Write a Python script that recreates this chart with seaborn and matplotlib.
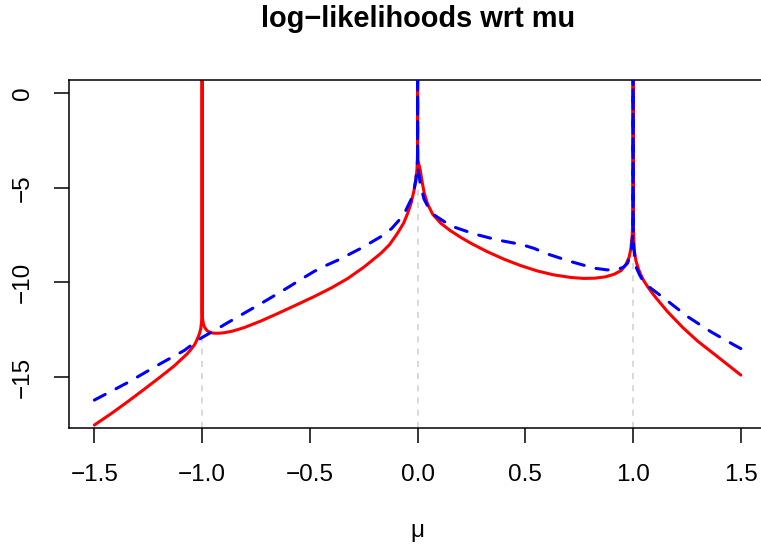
import matplotlib
matplotlib.use("Agg")
import matplotlib.pyplot as plt
import seaborn as sns
import pandas as pd

# ---- data ----
red_x = [-1.5, -1.42, -1.346, -1.27, -1.191, -1.13, -1.067, -1.035, -1.021, -1.012,
         -1.006, -1.002, -1.0005, -1.0, -1.0, -1.0, -0.9995, -0.998, -0.994, -0.987,
         -0.977, -0.967, -0.95, -0.928, -0.9, -0.86, -0.805, -0.727, -0.65, -0.57,
         -0.48, -0.40, -0.325, -0.25, -0.17, -0.13, -0.093, -0.065, -0.046, -0.03,
         -0.016, -0.008, -0.003, -0.001, 0.0, 0.0, 0.0, 0.001, 0.004, 0.012,
         0.022, 0.031, 0.046, 0.07, 0.108, 0.15, 0.2, 0.247, 0.32, 0.402,
         0.48, 0.557, 0.63, 0.711, 0.77, 0.82, 0.87, 0.912, 0.945, 0.967,
         0.982, 0.99, 0.996, 0.999, 1.0, 1.0, 1.0, 1.001, 1.005, 1.013,
         1.025, 1.036, 1.05, 1.067, 1.09, 1.11, 1.16, 1.23, 1.299, 1.4,
         1.5]
red_y = [-17.54, -16.92, -16.31, -15.66, -14.97, -14.42, -13.75, -13.30, -12.96, -12.70,
         -12.42, -12.0, -11.2, -10.6, 5.0, -10.6, -11.3, -11.9, -12.2, -12.4,
         -12.55, -12.62, -12.68, -12.69, -12.665, -12.58, -12.39, -12.04, -11.65, -11.23,
         -10.75, -10.29, -9.80, -9.20, -8.46, -8.00, -7.40, -6.87, -6.35, -5.80,
         -5.11, -4.55, -4.06, -3.5, -3.0, 5.0, -3.0, -3.5, -3.65, -4.05,
         -4.75, -5.29, -5.85, -6.40, -6.88, -7.25, -7.62, -7.93, -8.36, -8.78,
         -9.12, -9.40, -9.60, -9.74, -9.79, -9.78, -9.71, -9.57, -9.37, -9.05,
         -8.65, -8.2, -7.5, -6.5, -6.0, 5.0, -6.0, -7.0, -8.3, -8.85,
         -9.3, -9.6, -9.92, -10.22, -10.58, -10.87, -11.55, -12.38, -13.10, -14.0,
         -14.90]

blue_x = [-1.5, -1.346, -1.191, -1.083, -1.006, -0.944, -0.851, -0.727, -0.65, -0.596,
          -0.54, -0.48, -0.42, -0.371, -0.263, -0.17, -0.12, -0.085, -0.055, -0.031,
          -0.015, -0.008, -0.002, 0.0, 0.0, 0.0, 0.002, 0.015, 0.03, 0.046,
          0.077, 0.155, 0.263, 0.371, 0.479, 0.54, 0.603, 0.711, 0.82, 0.88,
          0.928, 0.955, 0.974, 0.99, 0.998, 1.0, 1.0, 1.0, 1.002, 1.013,
          1.03, 1.052, 1.144, 1.253, 1.361, 1.469, 1.5]
blue_y = [-16.22, -15.30, -14.28, -13.60, -12.95, -12.55, -11.93, -11.12, -10.60, -10.23,
          -9.83, -9.42, -9.08, -8.83, -8.20, -7.58, -7.15, -6.70, -6.2, -5.64,
          -5.0, -4.58, -3.8, -3.5, 5.0, -3.5, -4.0, -4.94, -5.6, -5.95,
          -6.44, -7.02, -7.44, -7.76, -7.99, -8.2, -8.50, -8.90, -9.25, -9.34,
          -9.31, -9.2, -8.99, -8.5, -7.5, -7.0, 5.0, -7.0, -8.0, -9.17,
          -9.6, -10.05, -10.84, -11.81, -12.61, -13.31, -13.50]

data_points = [-1.0, 0.0, 1.0]
x_ticks = [-1.5, -1.0, -0.5, 0.0, 0.5, 1.0, 1.5]
x_tick_labels = ["\u22121.5", "\u22121.0", "\u22120.5", "0.0", "0.5", "1.0", "1.5"]
y_ticks = [0, -5, -10, -15]
y_tick_labels = ["0", "\u22125", "\u221210", "\u221215"]
title_text = "log\u2212likelihoods wrt mu"
x_label = "\u03bc"

# ---- styling ----
sns.set_style("white")
plt.rcParams["font.family"] = ["Liberation Sans", "DejaVu Sans"]
plt.rcParams["axes.linewidth"] = 1.1
plt.rcParams["axes.edgecolor"] = "black"
plt.rcParams["text.color"] = "black"

W, H = 761, 550
fig = plt.figure(figsize=(W / 100, H / 100), dpi=100)
left_px, right_px, top_px, bottom_px = 68.5, 766.7, 80.3, 427.7
ax = fig.add_axes([left_px / W, 1 - bottom_px / H,
                   (right_px - left_px) / W, (bottom_px - top_px) / H])

for xv in data_points:
    ax.axvline(xv, color="#CFCFCF", lw=1.1, linestyle=(0, (4, 4)), zorder=1)

red_df = pd.DataFrame({"mu": red_x, "ll": red_y})
blue_df = pd.DataFrame({"mu": blue_x, "ll": blue_y})

sns.lineplot(data=red_df, x="mu", y="ll", sort=False, estimator=None,
             color="#FF0000", lw=2.2, ax=ax, zorder=2)
sns.lineplot(data=blue_df, x="mu", y="ll", sort=False, estimator=None,
             color="#0000FF", lw=2.2, ax=ax, zorder=3)
red_line = ax.get_lines()[-2]
blue_line = ax.get_lines()[-1]
red_line.set_solid_capstyle("round")
red_line.set_solid_joinstyle("round")
blue_line.set_linestyle((0, (4, 4)))
blue_line.set_dash_capstyle("round")
blue_line.set_dash_joinstyle("round")

ax.set_xlim(-1.62, 1.62)
ax.set_ylim(-17.68, 0.68)
ax.set_xticks(x_ticks)
ax.set_xticklabels(x_tick_labels)
ax.set_yticks(y_ticks)
ax.set_yticklabels(y_tick_labels, rotation=90, va="center")
ax.tick_params(axis="both", which="major", direction="out", length=10.8, width=1.1,
               color="black", labelsize=17.5, labelcolor="black",
               bottom=True, left=True, top=False, right=False)
ax.tick_params(axis="x", pad=15.5)
ax.tick_params(axis="y", pad=14.0)
ax.set_xlabel("")
ax.set_ylabel("")
for s in ax.spines.values():
    s.set_visible(True)
    s.set_color("black")
    s.set_linewidth(1.1)

fig.text((left_px + right_px) / 2 / W, 1 - 27 / H, title_text, ha="center",
         va="baseline", fontsize=20.9, fontweight="bold", color="black")
fig.text((left_px + right_px) / 2 / W, 1 - 537 / H, x_label, ha="center",
         va="baseline", fontsize=17.5, color="black")

fig.savefig("out.png", dpi=100)
